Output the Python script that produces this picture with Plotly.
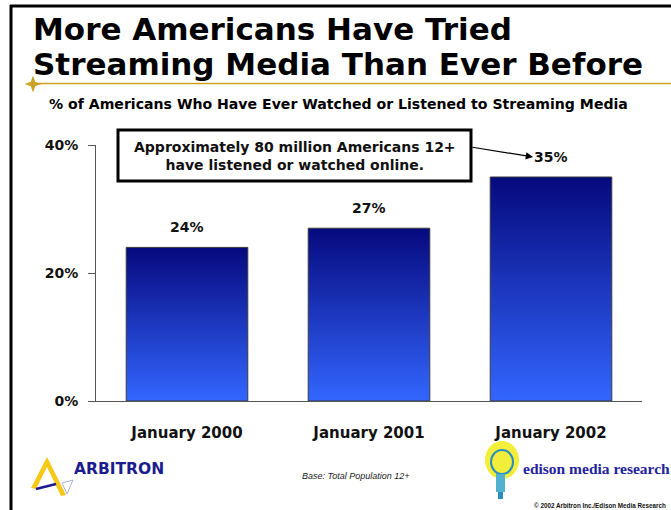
import plotly.graph_objects as go

# --- data -------------------------------------------------------------
periods = ["January 2000", "January 2001", "January 2002"]
share_pct = [24, 27, 35]
y_ticks = [0, 20, 40]
y_tick_labels = ["0%", "20%", "40%"]

W, H = 671, 510
L, R, T, B = 96, 29, 145, 109          # margins -> plot area 546 x 256
PW, PH = W - L - R, H - T - B


def px(x):
    """pixel column -> paper x"""
    return (x - L) / PW


def py(y):
    """pixel row -> paper y"""
    return (H - B - y) / PH


BAR_HALF = 0.334
NAVY = "#06097e"
BRIGHT = "#3366ff"
FONT = "DejaVu Sans, Verdana, sans-serif"
FONT_NARROW = "Liberation Sans, Arial, sans-serif"

fig = go.Figure()

# gradient-filled bars, one closed outline per period
for i, v in enumerate(share_pct):
    x0, x1 = i - BAR_HALF, i + BAR_HALF
    fig.add_trace(go.Scatter(
        x=[x0, x0, x1, x1, x0], y=[0, v, v, 0, 0],
        mode="lines", fill="toself",
        fillgradient=dict(type="vertical",
                          colorscale=[[0, BRIGHT], [1, NAVY]]),
        line=dict(color="#3a3a3a", width=1),
        hoverinfo="skip", showlegend=False,
    ))

annotations = []

# value labels above bars
for i, v in enumerate(share_pct):
    annotations.append(dict(
        x=i, y=v, xref="x", yref="y", text=f"{v}%", showarrow=False,
        yanchor="bottom", yshift=10,
        font=dict(family=FONT, size=14, color="#111111", weight="bold"),
    ))

# title
annotations += [
    dict(x=px(31), y=py(29), xref="paper", yref="paper", xanchor="left",
         yanchor="middle", showarrow=False, text="More Americans Have Tried",
         font=dict(family=FONT, size=31, color="#000000", weight="bold")),
    dict(x=px(31), y=py(64), xref="paper", yref="paper", xanchor="left",
         yanchor="middle", showarrow=False,
         text="Streaming Media Than Ever Before",
         font=dict(family=FONT, size=31, color="#000000", weight="bold")),
    dict(x=px(47), y=py(104), xref="paper", yref="paper", xanchor="left",
         yanchor="middle", showarrow=False,
         text="% of Americans Who Have Ever Watched or Listened to Streaming Media",
         font=dict(family=FONT, size=14.1, color="#000000", weight="bold")),
]

# callout box text + arrow to the latest bar label
annotations += [
    dict(x=px(295), y=py(155.5), xref="paper", yref="paper",
         xanchor="center", yanchor="middle", showarrow=False,
         text="Approximately 80 million Americans 12+<br>have listened or watched online.",
         font=dict(family=FONT, size=14, color="#111111", weight="bold")),
    dict(x=px(533), y=py(157), xref="paper", yref="paper", text="",
         showarrow=True, ax=-62, ay=-10, axref="pixel", ayref="pixel",
         arrowhead=2, arrowsize=1.2, arrowwidth=1.2, arrowcolor="#000000",
         standoff=0),
]

# footer
annotations += [
    dict(x=px(72), y=py(469), xref="paper", yref="paper", xanchor="left",
         yanchor="middle", showarrow=False, text="ARBITRON",
         font=dict(family=FONT, size=15.5, color="#1c1c8e", weight="bold")),
    dict(x=px(356), y=py(476), xref="paper", yref="paper", xanchor="center",
         yanchor="middle", showarrow=False, text="Base: Total Population 12+",
         font=dict(family=FONT_NARROW, size=9, color="#222222",
                   style="italic")),
    dict(x=px(521), y=py(468), xref="paper", yref="paper", xanchor="left",
         yanchor="middle", showarrow=False, text="edison media research",
         font=dict(family="Liberation Serif, Times New Roman, serif",
                   size=15.5, color="#2323a0", weight="bold")),
    dict(x=px(668), y=py(505), xref="paper", yref="paper", xanchor="right",
         yanchor="middle", showarrow=False,
         text="© 2002 Arbitron Inc./Edison Media Research",
         font=dict(family=FONT_NARROW, size=6.3, color="#111111",
                   weight="bold")),
]


def pix_path(points):
    return "M " + " L ".join(f"{px(x)},{py(y)}" for x, y in points) + " Z"


# four-point gold star on the rule line
cx, cy, ro, ri = 33, 84, 8.5, 2.2
star = [(cx, cy - ro), (cx + ri, cy - ri), (cx + ro, cy), (cx + ri, cy + ri),
        (cx, cy + ro), (cx - ri, cy + ri), (cx - ro, cy), (cx - ri, cy - ri)]

shapes = [
    # slide frame
    dict(type="line", xref="paper", yref="paper", x0=px(11), x1=px(11),
         y0=py(5), y1=py(512), line=dict(color="#000000", width=3)),
    dict(type="line", xref="paper", yref="paper", x0=px(10), x1=px(672),
         y0=py(6), y1=py(6), line=dict(color="#000000", width=3)),
    # gold rule
    dict(type="line", xref="paper", yref="paper", x0=px(33), x1=px(672),
         y0=py(83.5), y1=py(83.5), line=dict(color="#c9a227", width=1.5)),
    dict(type="path", xref="paper", yref="paper", path=pix_path(star),
         fillcolor="#c9a227", line=dict(width=0)),
    # callout box
    dict(type="rect", xref="paper", yref="paper", x0=px(118), x1=px(471),
         y0=py(130), y1=py(181), line=dict(color="#000000", width=3),
         fillcolor="#ffffff"),
    # Arbitron mark: yellow chevron with blue stroke
    dict(type="path", xref="paper", yref="paper",
         path=pix_path([(47, 457), (66, 495), (61, 496), (47, 467),
                        (36, 489), (31, 488)]),
         fillcolor="#f7c816", line=dict(width=0)),
    dict(type="line", xref="paper", yref="paper", x0=px(36), x1=px(56),
         y0=py(489), y1=py(484), line=dict(color="#1c1c8e", width=2.5)),
    dict(type="path", xref="paper", yref="paper",
         path=pix_path([(62, 483), (73, 480), (67, 494)]),
         fillcolor="rgba(0,0,0,0)", line=dict(color="#aab0d8", width=1)),
    # Edison mark: yellow burst behind a blue bulb
    dict(type="circle", xref="paper", yref="paper", x0=px(485), x1=px(519),
         y0=py(441), y1=py(479), fillcolor="#f2ee3a", line=dict(width=0)),
    dict(type="circle", xref="paper", yref="paper", x0=px(491), x1=px(513),
         y0=py(450), y1=py(474), fillcolor="rgba(0,0,0,0)",
         line=dict(color="#2a8fc0", width=2)),
    dict(type="rect", xref="paper", yref="paper", x0=px(496), x1=px(505),
         y0=py(474), y1=py(492), fillcolor="#52b0d0", line=dict(width=0)),
    dict(type="rect", xref="paper", yref="paper", x0=px(498), x1=px(503),
         y0=py(492), y1=py(499), fillcolor="#2a8fc0", line=dict(width=0)),
]

fig.update_layout(
    width=W, height=H,
    margin=dict(l=L, r=R, t=T, b=B, pad=0),
    paper_bgcolor="#ffffff", plot_bgcolor="#ffffff",
    showlegend=False,
    annotations=annotations, shapes=shapes,
    xaxis=dict(
        range=[-0.5, 2.5], tickmode="array", tickvals=list(range(len(periods))),
        ticktext=periods, ticks="", showgrid=False, zeroline=False,
        showline=True, linecolor="#555555", linewidth=1,
        ticklabelstandoff=18,
        tickfont=dict(family=FONT, size=15, color="#111111", weight="bold"),
        fixedrange=True,
    ),
    yaxis=dict(
        range=[0, 40], tickmode="array", tickvals=y_ticks,
        ticktext=y_tick_labels, ticks="outside", ticklen=7,
        tickcolor="#555555", showgrid=False, zeroline=False,
        showline=True, linecolor="#555555", linewidth=1,
        ticklabelstandoff=7,
        tickfont=dict(family=FONT, size=14, color="#111111", weight="bold"),
        fixedrange=True,
    ),
)

fig.write_html("out.html")
